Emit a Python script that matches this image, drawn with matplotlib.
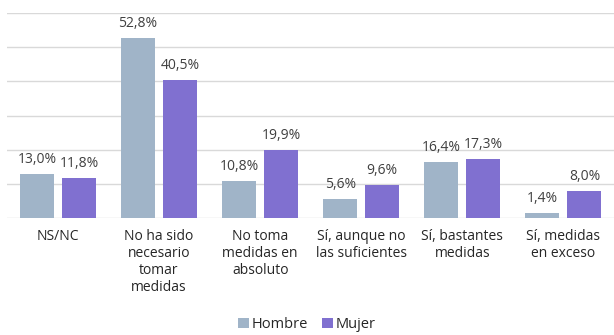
import matplotlib.pyplot as plt
import numpy as np

categorias = ["NS/NC", "No ha sido\nnecesario\ntomar\nmedidas", "No toma\nmedidas en\nabsoluto",
              "Sí, aunque no\nlas suficientes", "Sí, bastantes\nmedidas", "Sí, medidas\nen exceso"]
hombre = [13.0, 52.8, 10.8, 5.6, 16.4, 1.4]
mujer = [11.8, 40.5, 19.9, 9.6, 17.3, 8.0]

plt.rcParams['font.family'] = ['Open Sans', 'DejaVu Sans']

fig = plt.figure(figsize=(6.14, 3.35), dpi=100)
ax = fig.add_axes([0.012, 0.349, 0.988, 0.612])

x = np.arange(len(categorias))
w = 0.336
gap = 0.08
b1 = ax.bar(x - (w + gap) / 2, hombre, w, color='#A0B4C8', label='Hombre', zorder=3)
b2 = ax.bar(x + (w + gap) / 2, mujer, w, color='#8070D0', label='Mujer', zorder=3)

# etiquetas de valor encima de cada barra
for bars, vals in ((b1, hombre), (b2, mujer)):
    for b, v in zip(bars, vals):
        ax.text(b.get_x() + b.get_width() / 2, v + 2.0, f"{v:.1f}%".replace('.', ','),
                ha='center', va='bottom', fontsize=10, color='#404040')

ax.set_ylim(0, 60)
ax.set_xlim(-0.5, len(categorias) - 0.5)
ax.set_yticks(np.arange(0, 61, 10))
ax.yaxis.grid(True, color='#D9D9D9', linewidth=1)
ax.tick_params(axis='y', left=False, labelleft=False)
ax.tick_params(axis='x', bottom=False, pad=4)
ax.set_xticks(x)
ax.set_xticklabels(categorias, fontsize=10, color='#262626', linespacing=1.2)
for s in ax.spines.values():
    s.set_visible(False)

fig.legend(loc='lower center', bbox_to_anchor=(0.5, -0.022), ncol=2, frameon=False,
           fontsize=10.5, handlelength=0.7, handleheight=0.7, handletextpad=0.2,
           columnspacing=1.0, labelcolor='#262626', borderpad=0.2)

fig.savefig('out.png', dpi=100)
